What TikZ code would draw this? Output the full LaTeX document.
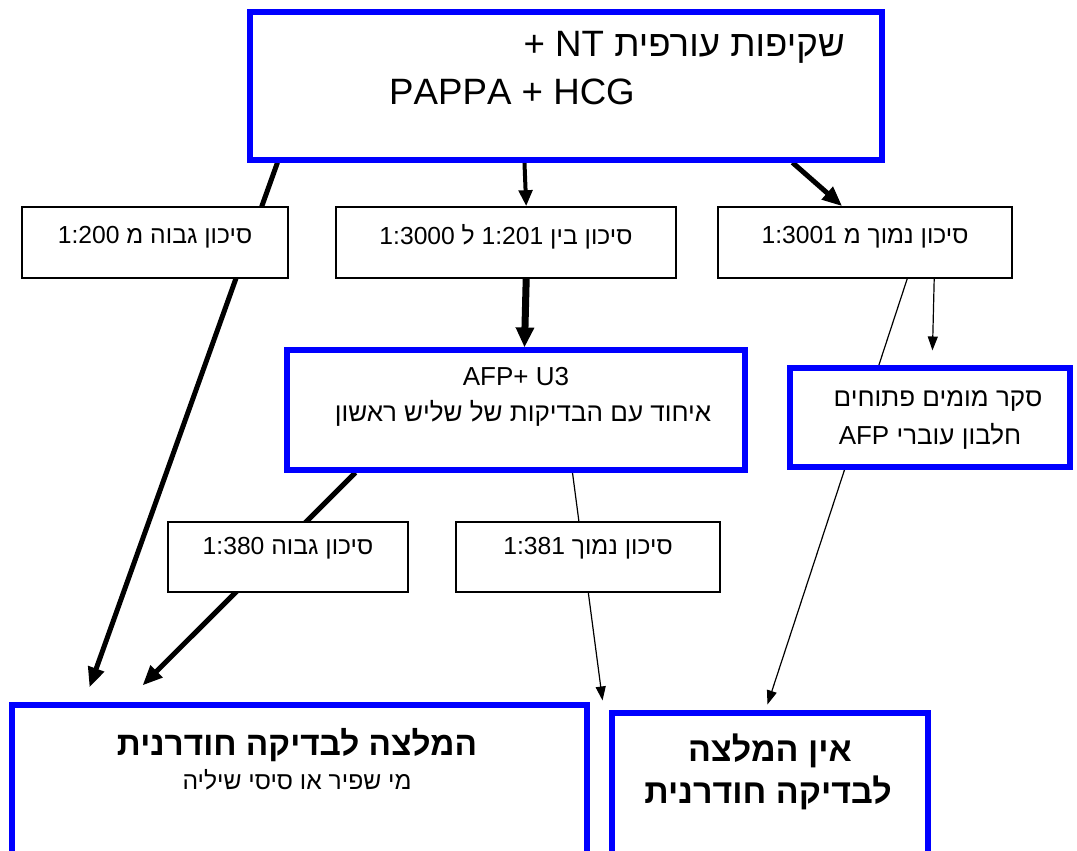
\documentclass[tikz,border=0pt]{standalone}
\usepackage{fontspec}
\setmainfont{Liberation Sans}
\newfontfamily\heb[Script=Hebrew]{Liberation Sans}
\TeXXeTstate=1
\usetikzlibrary{arrows.meta,backgrounds,calc}
\definecolor{bblue}{RGB}{0,0,255}
\tikzset{
  wh/.style 2 args={minimum width=#1*0.75pt, minimum height=#2*0.75pt},
  thinbox/.style={draw=black, line width=1.2pt, fill=white, inner sep=0pt},
  bluebox/.style={draw=bblue, line width=3.8pt, fill=white, inner sep=0pt},
  txt/.style={inner sep=0pt, font=\heb\fontsize{18.5}{22}\selectfont},
  bigtxt/.style={inner sep=0pt, font=\heb\fontsize{27.5}{32}\selectfont},
  midtxt/.style={inner sep=0pt, font=\heb\fontsize{19.5}{23}\selectfont},
  boldtxt/.style={inner sep=0pt, font=\heb\bfseries\fontsize{25}{29}\selectfont},
  subtxt/.style={inner sep=0pt, font=\heb\fontsize{18.5}{22}\selectfont},
  thickarr/.style={line width=3.75pt, -{Triangle[length=15pt,width=12pt]}},
  midarr/.style={line width=3pt, -{Triangle[length=12pt,width=10pt]}},
  fatarr/.style={line width=5.25pt, -{Triangle[length=15pt,width=13pt]}},
  thinarr/.style={line width=0.9pt, -{Triangle[length=10.5pt,width=7.5pt]}},
}
\begin{document}
\begin{tikzpicture}[x=0.75pt,y=-0.75pt]
\useasboundingbox (0,0) rectangle (1077,850);

% top box
\node[bluebox, wh={632}{148}] (top) at (566,86) {};
\node[bigtxt, anchor=east] (toptxta) at (845,47) {\beginR שקיפות עורפית \beginL NT\endL{} +\endR};
\node[bigtxt] (toptxtb) at (512,92) {PAPPA + HCG};

% risk boxes
\node[thinbox, wh={266}{71}] (b1) at (155,242.5) {};
\node[txt] (b1t) at (155,237) {\beginR סיכון גבוה מ \beginL 1:200\endL\endR};
\node[thinbox, wh={340}{71}] (b2) at (506,242.5) {};
\node[txt] (b2t) at (506,237) {\beginR סיכון בין \beginL 1:201\endL{} ל \beginL 1:3000\endL\endR};
\node[thinbox, wh={294}{71}] (b3) at (865,242.5) {};
\node[txt] (b3t) at (865,237) {\beginR סיכון נמוך מ \beginL 1:3001\endL\endR};

% AFP box
\node[bluebox, wh={458}{120}] (afp) at (516,410) {};
\node[midtxt] (afpa) at (516,377) {AFP+ U3};
\node[midtxt] (afpb) at (523,413) {\beginR איחוד עם הבדיקות של שליש ראשון\endR};

% open defects box
\node[bluebox, wh={280}{99}] (open) at (930,417.5) {};
\node[midtxt] (opena) at (938,401) {\beginR סקר מומים פתוחים\endR};
\node[midtxt] (openb) at (930,436) {\beginR חלבון עוברי \beginL AFP\endL\endR};

% second-level risk boxes
\node[thinbox, wh={240}{70}] (h380) at (288,557) {};
\node[txt] (h380t) at (288,548) {\beginR סיכון גבוה \beginL 1:380\endL\endR};
\node[thinbox, wh={264}{70}] (l381) at (588,557) {};
\node[txt] (l381t) at (588,548) {\beginR סיכון נמוך \beginL 1:381\endL\endR};

% bottom boxes
\node[bluebox, wh={575}{170}] (rec) at (299.5,790) {};
\node[boldtxt] (reca) at (297,745) {\beginR המלצה לבדיקה חודרנית\endR};
\node[subtxt] (recb) at (297,780) {\beginR מי שפיר או סיסי שיליה\endR};
\node[bluebox, wh={316}{162}] (norec) at (770,794) {};
\node[boldtxt, font=\heb\bfseries\fontsize{25.5}{30}\selectfont] (noreca) at (770,751) {\beginR אין המלצה\endR};
\node[boldtxt, font=\heb\bfseries\fontsize{25.5}{30}\selectfont] (norecb) at (768,793) {\beginR לבדיקה חודרנית\endR};

\coordinate (tipa) at ($(rec.north west)+(80,-15)$);
\coordinate (tipb) at ($(rec.north west)+(133,-17)$);
\coordinate (tipc) at ($(rec.north east)+(13,-2)$);

\begin{pgfonlayer}{background}
\fill[white] (0,0) rectangle (1077,850);
\draw[thickarr] ($(top.south west)+(30,0)$) -- (tipa);
\draw[midarr] ($(top.south west)+(277,0)$) -- ($(b2.north west)+(191,0)$);
\draw[thickarr] ($(top.south west)+(545,0)$) -- ($(b3.north west)+(125,0)$);
\draw[fatarr] ($(b2.south west)+(191,0)$) -- ($(afp.north west)+(240,0)$);
\draw[thinarr] ($(b3.south west)+(190,0)$) -- ($(norec.north west)+(158,-6)$);
\draw[thinarr] ($(b3.south west)+(217,0)$) -- ($(open.north west)+(145,-15)$);
\draw[thickarr] ($(afp.south west)+(71,0)$) -- (tipb);
\draw[thinarr] ($(afp.south west)+(288,0)$) -- (tipc);
\end{pgfonlayer}
\end{tikzpicture}
\end{document}
